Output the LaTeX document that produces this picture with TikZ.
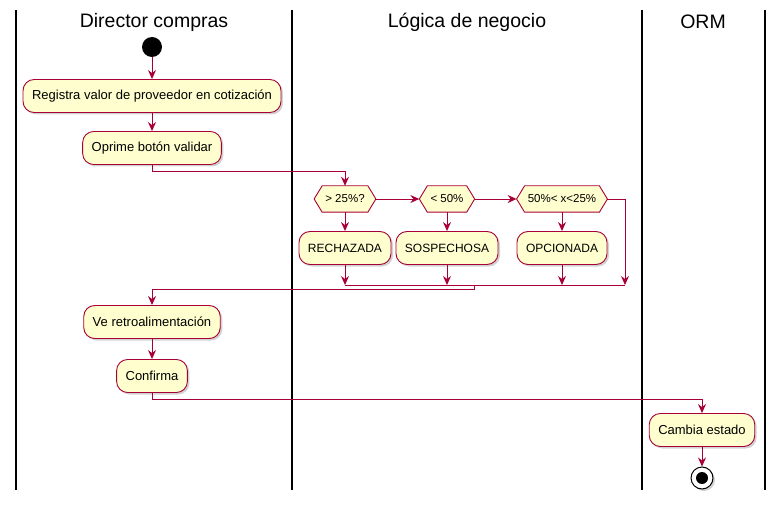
\documentclass[tikz,border=0pt]{standalone}
\usepackage{fontspec}
\setmainfont{Liberation Sans}
\usetikzlibrary{arrows.meta,shadows}
\definecolor{boxfill}{HTML}{FEFECE}
\definecolor{boxline}{HTML}{A80036}
\tikzset{
  act/.style={draw=boxline, fill=boxfill, line width=0.9pt, rounded corners=11pt,
    minimum height=33pt, inner xsep=9pt, font=\fontsize{13}{15}\selectfont,
    drop shadow={shadow xshift=2pt, shadow yshift=-2pt, fill=black!35, opacity=0.5}},
  actcaps/.style={act, font=\fontsize{12}{14}\selectfont},
  hexlbl/.style={minimum height=26pt, inner xsep=11pt, font=\fontsize{11.5}{13}\selectfont},
  hexshape/.style={draw=boxline, fill=boxfill, line width=0.9pt},
  flow/.style={draw=boxline, line width=0.9pt, -{Stealth[length=9pt,width=8pt,inset=3pt]}},
  flowline/.style={draw=boxline, line width=0.9pt},
  lane/.style={line width=1.5pt, black},
  lanehead/.style={font=\fontsize{19.5}{22}\selectfont},
}
\begin{document}
\begin{tikzpicture}[x=1pt,y=-1pt]
\useasboundingbox (0,0) rectangle (784,505);
% swimlanes
\foreach \xx in {16,292,642,765} \draw[lane] (\xx,10) -- (\xx,490);
\node[lanehead] (h1) at (154,22) {Director compras};
\node[lanehead] (h2) at (467,22) {Lógica de negocio};
\node[lanehead] (h3) at (703,22) {ORM};
% start
\node[circle, fill=black, minimum size=20pt, inner sep=0pt] (start) at (152,47) {};
\node[act] (reg) at (152,96) {Registra valor de proveedor en cotización};
\node[act] (opr) at (152,148) {Oprime botón validar};
% hexagons
\node[hexlbl] (d1) at (345,199) {> 25\%?};
\node[hexlbl] (d2) at (447,199) {< 50\%};
\node[hexlbl] (d3) at (562,199) {50\%< x<25\%};
\foreach \d in {d1,d2,d3}{
  \draw[hexshape] (\d.west) -- ([xshift=8pt]\d.north west) -- ([xshift=-8pt]\d.north east)
     -- (\d.east) -- ([xshift=-8pt]\d.south east) -- ([xshift=8pt]\d.south west) -- cycle;
}
\node[hexlbl] at (d1) {> 25\%?};
\node[hexlbl] at (d2) {< 50\%};
\node[hexlbl] at (d3) {50\%< x<25\%};
\node[actcaps] (rech) at (345,248) {RECHAZADA};
\node[actcaps] (sosp) at (447,248) {SOSPECHOSA};
\node[actcaps] (opc) at (562,248) {OPCIONADA};
\node[act] (ve) at (152,322) {Ve retroalimentación};
\node[act] (conf) at (152,376) {Confirma};
\node[act] (camb) at (702,430) {Cambia estado};
\node[circle, draw=black, line width=1pt, fill=white, minimum size=22pt, inner sep=0pt,
  drop shadow={shadow xshift=2pt, shadow yshift=-2pt, fill=black!35, opacity=0.5}] (stop) at (702,478) {};
\node[circle, fill=black, minimum size=12pt, inner sep=0pt] (stopin) at (stop) {};
% coordinates
\coordinate (m1) at (625,285);
\coordinate (m2) at (474,285);
\coordinate (m3) at (474,289);
\coordinate (m4) at (152,289);
% connectors
\draw[flow] (start) -- (reg);
\draw[flow] (reg) -- (opr);
\draw[flow] (opr.south) -- ++(0,7) -| (d1.north);
\draw[flow] (d1.east) -- (d2.west);
\draw[flow] (d2.east) -- (d3.west);
\draw[flow] (d3.east) -| (m1);
\draw[flow] (d1) -- (rech);
\draw[flow] (d2) -- (sosp);
\draw[flow] (d3) -- (opc);
\draw[flow] (rech.south) -- (rech.south |- m1);
\draw[flow] (sosp.south) -- (sosp.south |- m1);
\draw[flow] (opc.south) -- (opc.south |- m1);
\draw[flowline] (rech.south |- m1) -- (m1);
\draw[flowline] (m2) -- (m3) -- (m4);
\draw[flow] (m4) -- (ve.north);
\draw[flow] (ve) -- (conf);
\draw[flow] (conf.south) -- ++(0,6) -| (camb.north);
\draw[flow] (camb) -- (stop);
\end{tikzpicture}
\end{document}
